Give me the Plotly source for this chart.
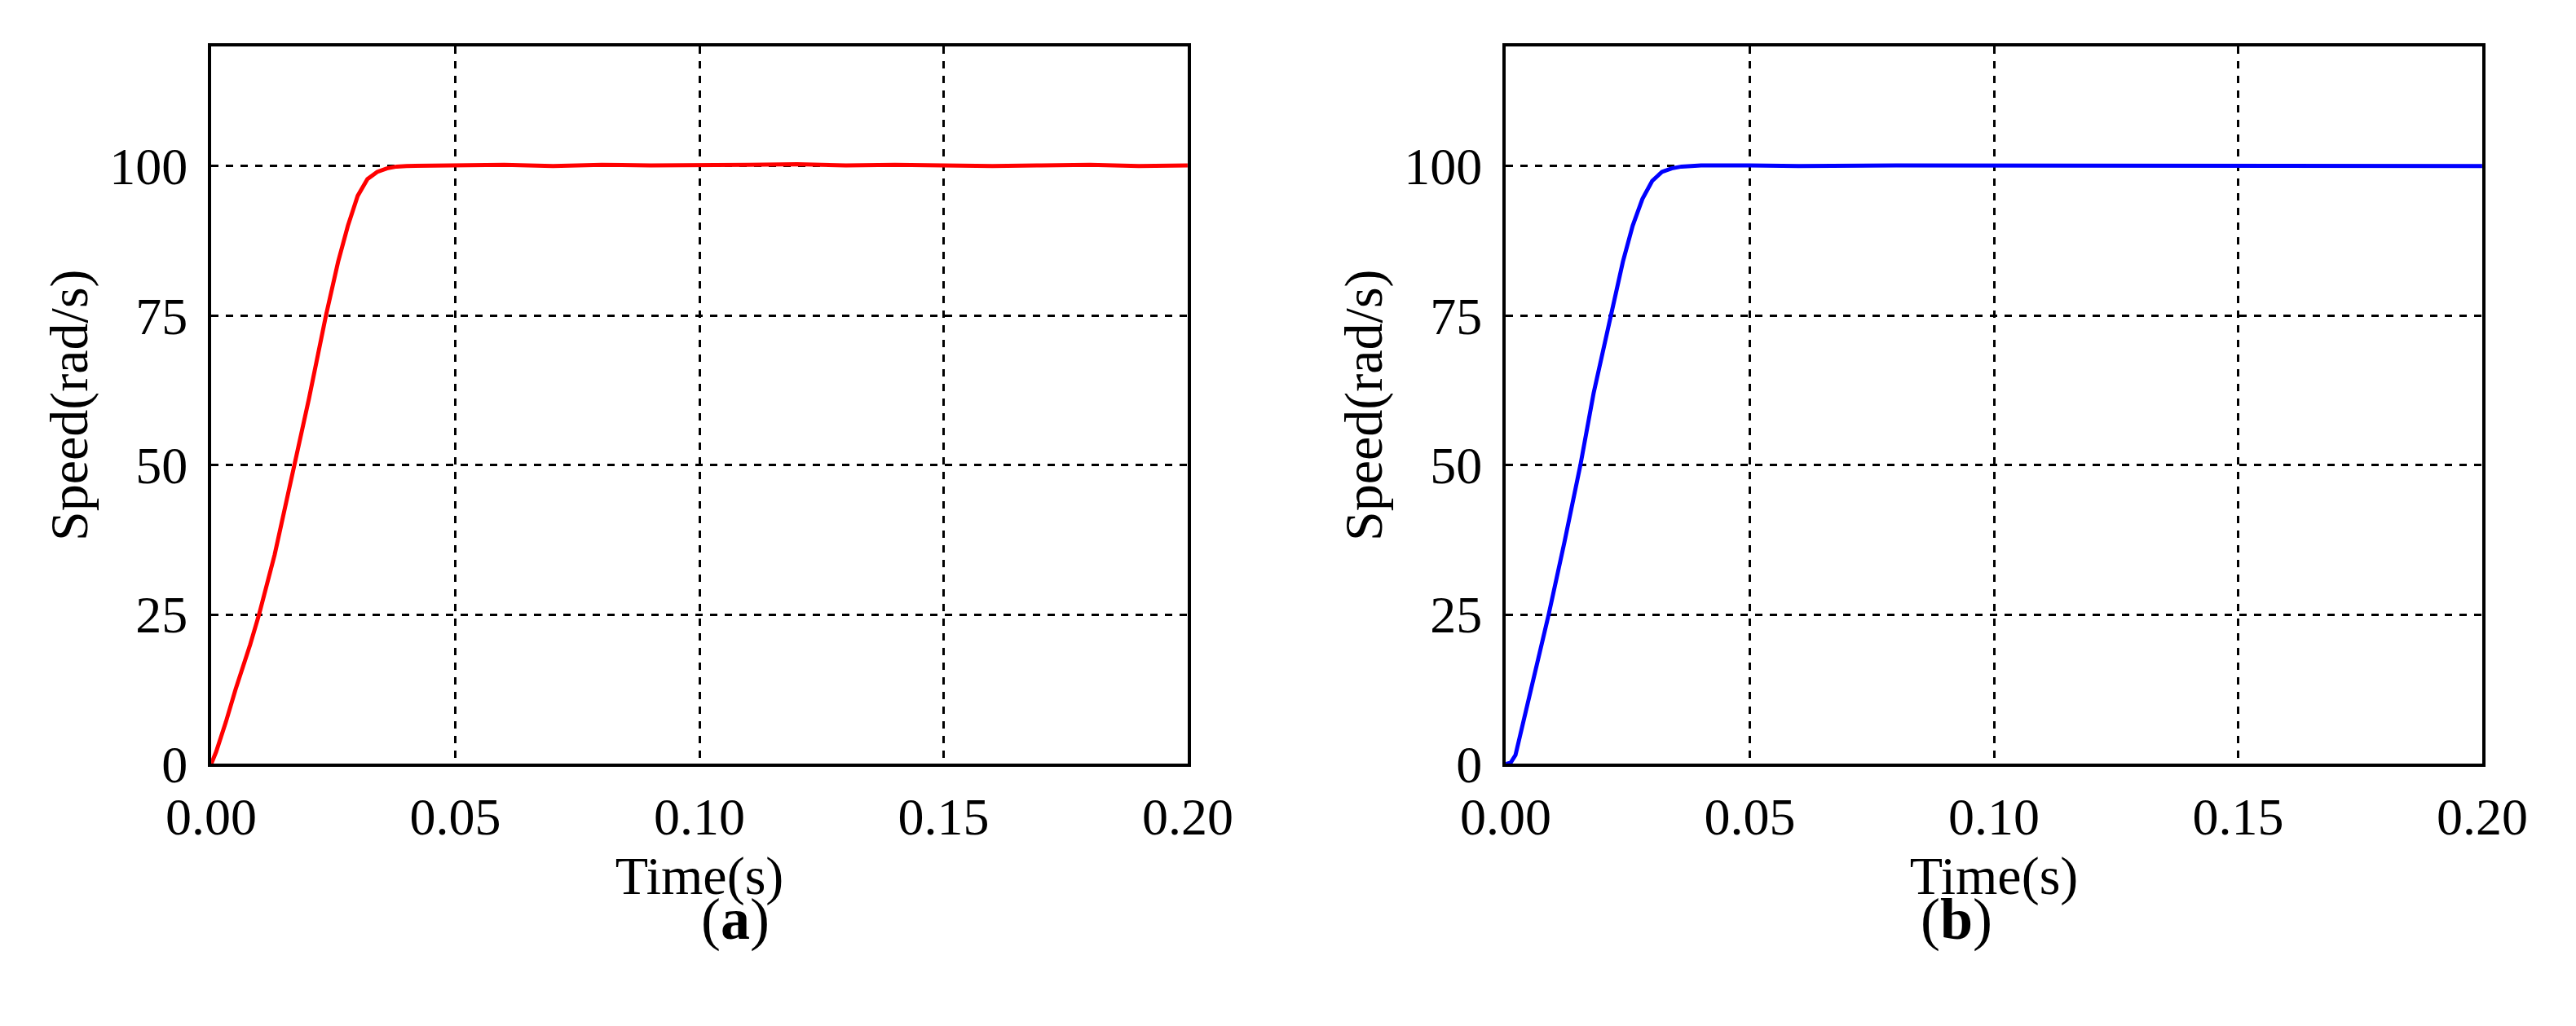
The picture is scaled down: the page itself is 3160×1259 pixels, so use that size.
import plotly.graph_objects as go
from plotly.subplots import make_subplots

# (a) red response
time_a = [0.0, 0.001, 0.003, 0.005, 0.008, 0.0098, 0.013, 0.017, 0.020, 0.0235, 0.026, 0.028,
          0.030, 0.032, 0.034, 0.036, 0.038, 0.040, 0.05, 0.06, 0.07, 0.08, 0.09, 0.10,
          0.11, 0.12, 0.13, 0.14, 0.15, 0.16, 0.17, 0.18, 0.19, 0.20]
speed_a = [0.0, 2.0, 7.0, 12.5, 20.0, 25.0, 35.0, 50.0, 61.0, 75.0, 84.0, 90.0,
           95.0, 97.8, 99.0, 99.6, 99.9, 100.0, 100.1, 100.2, 100.0, 100.2, 100.1, 100.1,
           100.2, 100.3, 100.1, 100.2, 100.1, 100.0, 100.1, 100.2, 100.0, 100.1]

# (b) blue response
time_b = [0.0, 0.001, 0.002, 0.003, 0.005, 0.0088, 0.012, 0.0153, 0.018, 0.0215, 0.024, 0.026,
          0.028, 0.030, 0.032, 0.034, 0.036, 0.038, 0.040, 0.05, 0.06, 0.08, 0.10,
          0.12, 0.14, 0.16, 0.18, 0.19, 0.20]
speed_b = [0.0, 0.2, 1.5, 5.0, 12.0, 25.0, 37.0, 50.0, 62.0, 75.0, 84.0, 90.0,
           94.5, 97.5, 99.0, 99.6, 99.9, 100.0, 100.1, 100.1, 100.0, 100.1, 100.1,
           100.0, 100.0, 100.0, 100.0, 100.1, 100.0]

x_ticks = [0.0, 0.05, 0.10, 0.15, 0.20]
x_labels = ["0.00", "0.05", "0.10", "0.15", "0.20"]
y_ticks = [0, 25, 50, 75, 100]

font = "Liberation Serif"
fig = make_subplots(rows=1, cols=2, horizontal_spacing=0.128)
fig.add_trace(go.Scatter(x=time_a, y=speed_a, mode="lines",
                         line=dict(color="#ff0000", width=5)), 1, 1)
fig.add_trace(go.Scatter(x=time_b, y=speed_b, mode="lines",
                         line=dict(color="#0000ff", width=5)), 1, 2)

axis_style = dict(showline=True, linecolor="black", linewidth=4, mirror=True,
                  showgrid=True, gridcolor="black", griddash="dash", gridwidth=2.5,
                  zeroline=False, ticks="", tickfont=dict(family=font, size=64, color="black"))
fig.update_xaxes(range=[0, 0.2], tickvals=x_ticks, ticktext=x_labels, ticklabelstandoff=6,
                 title=dict(text="Time(s)", font=dict(family=font, size=66, color="black"), standoff=0),
                 **axis_style)
fig.update_yaxes(range=[0, 120], tickvals=y_ticks, ticklabelstandoff=12,
                 title=dict(text="Speed(rad/s)", font=dict(family=font, size=66, color="black"), standoff=6),
                 **axis_style)
fig.update_xaxes(domain=[0.064, 0.457], row=1, col=1)
fig.update_xaxes(domain=[0.585, 0.978], row=1, col=2)
fig.update_yaxes(domain=[0.24, 0.96])

for xpos, tag in [(0.2605, "a"), (0.7815, "b")]:
    fig.add_annotation(x=xpos, y=0.05, xref="paper", yref="paper", showarrow=False,
                       text=f"(<b>{tag}</b>)", font=dict(family=font, size=72, color="black"))

fig.update_layout(width=3160, height=1259, showlegend=False, plot_bgcolor="white",
                  paper_bgcolor="white", margin=dict(l=0, r=0, t=0, b=0))
fig.write_html("out.html")
